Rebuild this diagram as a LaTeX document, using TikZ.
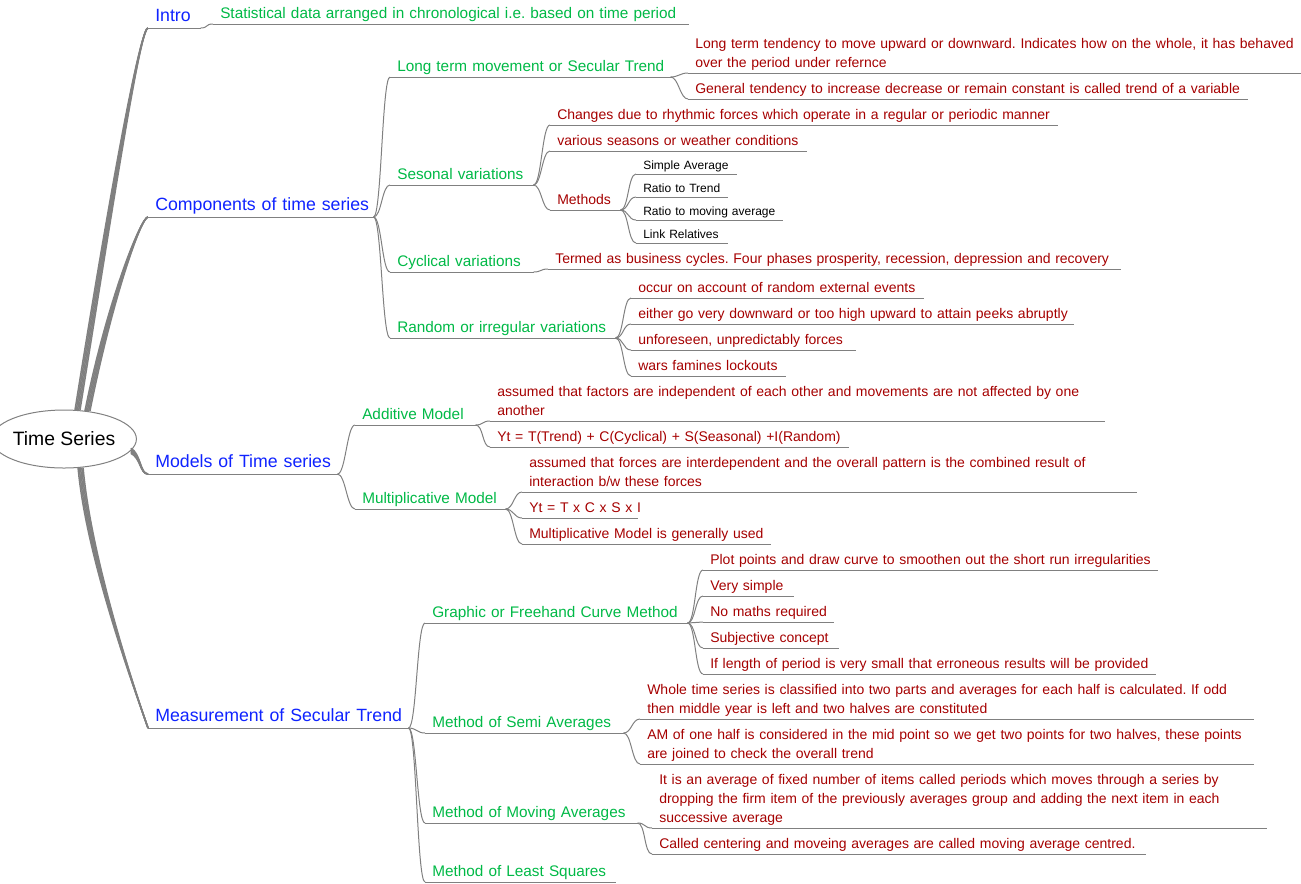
\documentclass[tikz,border=0pt]{standalone}
\usepackage{fontspec}
\setmainfont{Liberation Sans}
\usetikzlibrary{shapes.geometric}
\frenchspacing

\newlength{\du}
\setlength{\du}{0.75pt}

% keeps the lines of a text as they are written
\newcommand{\lns}[1]{\begin{tabular}[b]{@{}l@{}}#1\end{tabular}}

\definecolor{tsblue}{RGB}{15,35,255}
\definecolor{tsgreen}{RGB}{0,185,70}
\definecolor{tsred}{RGB}{165,0,0}
\definecolor{tsline}{RGB}{128,128,128}

\tikzset{
	item/.style={anchor=south west, inner xsep=7\du, inner ysep=0pt, text width=#1\du-14\du},
	branch/.style={item=#1, text=tsblue, font=\fontsize{13.3}{16}\selectfont},
	topic/.style={item=#1, text=tsgreen, font=\fontsize{11.5}{14}\selectfont},
	note/.style={item=#1, text=tsred, font=\fontsize{10.5}{14.25}\selectfont},
	method/.style={item=#1, text=black, font=\fontsize{9}{11}\selectfont},
	link/.style={draw=tsline, line width=1\du, to path={.. controls +(8,0) and +(-8,0) .. (\tikztotarget)}},
	trunk/.style={draw=tsline, line width=1.5\du},
}

\begin{document}
\begin{tikzpicture}[x=1\du, y=-1\du]
	\useasboundingbox (0,0) rectangle (1301,883);

	% root
	\node[ellipse, draw=tsline, line width=1\du, minimum width=125\du, minimum height=58\du, inner sep=0pt,
		font=\fontsize{14.5}{17}\selectfont] (root) at (64,439) {Time Series};

	% intro
	\node[branch=52] (intro) at (148,28) {\lns{Intro}};
	\node[topic=475] (stat) at (213,24) {\lns{Statistical data arranged in chronological i.e. based on time period}};

	% components
	\node[branch=225] (comp) at (148,217) {\lns{Components of time series}};
	\node[topic=280] (longterm) at (390,77) {\lns{Long term movement or Secular Trend}};
	\node[note=613] (lt1) at (688,73) {\lns{Long term tendency to move upward or downward. Indicates how on the whole, it has behaved\\over the period under refernce}};
	\node[note=559] (lt2) at (688,99) {\lns{General tendency to increase decrease or remain constant is called trend of a variable}};
	\node[topic=143] (season) at (390,185) {\lns{Sesonal variations}};
	\node[note=507] (se1) at (550,125) {\lns{Changes due to rhythmic forces which operate in a regular or periodic manner}};
	\node[note=256] (se2) at (550,151) {\lns{various seasons or weather conditions}};
	\node[note=70] (meth) at (550,210) {\lns{Methods}};
	\node[method=100] (m1) at (636,174) {\lns{Simple Average}};
	\node[method=91] (m2) at (636,197) {\lns{Ratio to Trend}};
	\node[method=146] (m3) at (636,220) {\lns{Ratio to moving average}};
	\node[method=91] (m4) at (636,243) {\lns{Link Relatives}};
	\node[topic=143] (cyc) at (390,272) {\lns{Cyclical variations}};
	\node[note=572] (cy1) at (548,269) {\lns{Termed as business cycles. Four phases prosperity, recession, depression and recovery}};
	\node[topic=225] (rand) at (390,338) {\lns{Random or irregular variations}};
	\node[note=292] (r1) at (631,298) {\lns{occur on account of random external events}};
	\node[note=442] (r2) at (631,324) {\lns{either go very downward or too high upward to attain peeks abruptly}};
	\node[note=224] (r3) at (631,350) {\lns{unforeseen, unpredictably forces}};
	\node[note=154] (r4) at (631,376) {\lns{wars famines lockouts}};

	% models
	\node[branch=189] (models) at (148,474) {\lns{Models of Time series}};
	\node[topic=120] (add) at (355,425) {\lns{Additive Model}};
	\node[note=614] (a1) at (490,421) {\lns{assumed that factors are independent of each other and movements are not affected by one\\another}};
	\node[note=358] (a2) at (490,447) {\lns{Yt = T(Trend) + C(Cyclical) + S(Seasonal) +I(Random)}};
	\node[topic=150] (mult) at (355,509) {\lns{Multiplicative Model}};
	\node[note=614] (u1) at (522,492) {\lns{assumed that forces are interdependent and the overall pattern is the combined result of\\interaction b/w these forces}};
	\node[note=115] (u2) at (522,518) {\lns{Yt = T x C x S x I}};
	\node[note=248] (u3) at (522,544) {\lns{Multiplicative Model is generally used}};

	% measurement
	\node[branch=260] (meas) at (148,728) {\lns{Measurement of Secular Trend}};
	\node[topic=262] (graph) at (425,623) {\lns{Graphic or Freehand Curve Method}};
	\node[note=454] (g1) at (703,570) {\lns{Plot points and draw curve to smoothen out the short run irregularities}};
	\node[note=90] (g2) at (703,596) {\lns{Very simple}};
	\node[note=130] (g3) at (703,622) {\lns{No maths required}};
	\node[note=135] (g4) at (703,648) {\lns{Subjective concept}};
	\node[note=452] (g5) at (703,674) {\lns{If length of period is very small that erroneous results will be provided}};
	\node[topic=198] (semi) at (425,733) {\lns{Method of Semi Averages}};
	\node[note=613] (s1) at (640,719) {\lns{Whole time series is classified into two parts and averages for each half is calculated. If odd\\then middle year is left and two halves are constituted}};
	\node[note=613] (s2) at (640,764) {\lns{AM of one half is considered in the mid point so we get two points for two halves, these points\\are joined to check the overall trend}};
	\node[topic=212] (moving) at (425,823) {\lns{Method of Moving Averages}};
	\node[note=614] (v1) at (652,828) {\lns{It is an average of fixed number of items called periods which moves through a series by\\dropping the firm item of the previously averages group and adding the next item in each\\successive average}};
	\node[note=493] (v2) at (652,854) {\lns{Called centering and moveing averages are called moving average centred.}};
	\node[topic=190] (least) at (425,882) {\lns{Method of Least Squares}};

	% underlines
	\foreach \n in {intro,stat,comp,longterm,lt1,lt2,season,se1,se2,meth,m1,m2,m3,m4,cyc,cy1,rand,r1,r2,r3,r4,
		models,add,a1,a2,mult,u1,u2,u3,meas,graph,g1,g2,g3,g4,g5,semi,s1,s2,moving,v1,v2,least}
		\draw[tsline, line width=1\du] (\n.south west) -- (\n.south east);

	% links
	\foreach \a/\b in {intro/stat,comp/longterm,comp/season,comp/cyc,comp/rand,longterm/lt1,longterm/lt2,
		season/se1,season/se2,season/meth,meth/m1,meth/m2,meth/m3,meth/m4,cyc/cy1,rand/r1,rand/r2,rand/r3,rand/r4,
		models/add,models/mult,add/a1,add/a2,mult/u1,mult/u2,mult/u3,
		meas/graph,meas/semi,meas/moving,meas/least,graph/g1,graph/g2,graph/g3,graph/g4,graph/g5,
		semi/s1,semi/s2,moving/v1,moving/v2}
		\draw[link] (\a.south east) to (\b.south west);

	% trunks from the root
	\foreach \s in {-2.5,-1.25,0,1.25,2.5} {
		\draw[trunk] ([xshift=\s\du]root.65) .. controls +(40,-250) and +(-7,0) .. (intro.south west);
		\draw[trunk] ([xshift=\s\du]root.50) .. controls +(22,-110) and +(-7,0) .. (comp.south west);
		\draw[trunk] ([yshift=\s\du]root.-10) .. controls +(10,5) and +(-8,0) .. (models.south west);
		\draw[trunk] ([xshift=\s\du]root.-60) .. controls +(8,90) and +(-14,-40) .. (meas.south west);
	}
\end{tikzpicture}
\end{document}
